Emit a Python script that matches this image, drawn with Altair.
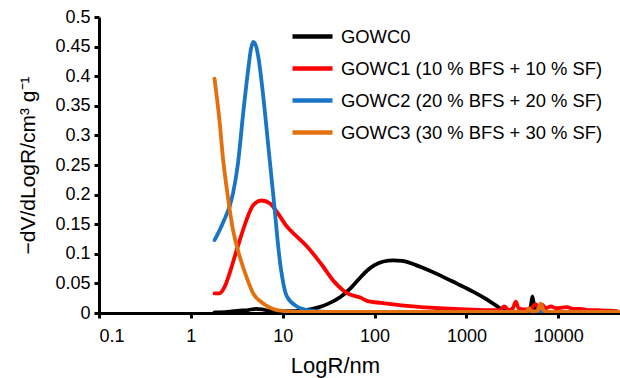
import altair as alt
import pandas as pd

series_names = [
    "GOWC0",
    "GOWC1 (10 % BFS + 10 % SF)",
    "GOWC2 (20 % BFS + 20 % SF)",
    "GOWC3 (30 % BFS + 30 % SF)",
]
series_colors = ["#000000", "#ff0000", "#1b75c5", "#e3700e"]

# GOWC0 (black)
r0 = [1.81, 2.5, 3.4, 4.2, 5.1, 6.0, 7.0, 9.0, 12, 16, 20, 25, 30.6, 42.5, 55, 70, 85, 100,
      125, 160, 200, 260, 340, 510, 780, 1180, 1700, 2180, 2400, 2700, 3500, 4500, 5000,
      5230, 5450, 5800, 7000, 9000, 12000, 20000, 30000, 47000]
v0 = [0.001, 0.002, 0.004, 0.005, 0.007, 0.006, 0.004, 0.003, 0.003, 0.004, 0.006, 0.010,
      0.015, 0.027, 0.042, 0.060, 0.073, 0.081, 0.087, 0.089, 0.088, 0.083, 0.076, 0.064,
      0.050, 0.036, 0.022, 0.011, 0.006, 0.003, 0.002, 0.002, 0.010, 0.028, 0.012, 0.003,
      0.002, 0.002, 0.002, 0.001, 0.001, 0.001]

# GOWC1 (red)
r1 = [1.81, 2.05, 2.33, 2.64, 3.0, 3.41, 4.03, 4.77, 5.9, 7.28, 8.62, 11.1, 14.3, 18.5,
      25.9, 36.3, 50.8, 70, 84.5, 118, 224, 513, 1660, 2300, 2580, 2900, 3200, 3450, 3700,
      4200, 5000, 5680, 6200, 6700, 7300, 8300, 9500, 11000, 12500, 14500, 17400, 21000,
      26500, 32000, 37000, 43500]
v1 = [0.033, 0.033, 0.044, 0.067, 0.095, 0.123, 0.157, 0.182, 0.190, 0.185, 0.171, 0.146,
      0.129, 0.112, 0.084, 0.053, 0.033, 0.026, 0.020, 0.017, 0.012, 0.008, 0.005, 0.005,
      0.011, 0.005, 0.008, 0.019, 0.008, 0.006, 0.007, 0.015, 0.008, 0.014, 0.008, 0.011,
      0.008, 0.009, 0.010, 0.007, 0.007, 0.005, 0.005, 0.004, 0.004, 0.003]

# GOWC2 (blue)
r2 = [1.81, 2.23, 2.88, 3.26, 3.71, 4.2, 4.5, 4.77, 5.1, 5.42, 6.15, 6.98, 7.93, 9.38,
      11.1, 14.3, 18.5, 30, 100, 1000, 5000, 47000]
v2 = [0.123, 0.152, 0.202, 0.253, 0.337, 0.410, 0.445, 0.458, 0.452, 0.433, 0.365, 0.281,
      0.196, 0.084, 0.028, 0.011, 0.005, 0.002, 0.002, 0.002, 0.002, 0.002]

# GOWC3 (orange)
r3 = [1.81, 2.05, 2.23, 2.53, 2.88, 3.41, 4.03, 4.77, 6.15, 8.62, 14.3, 30, 100,
      1000, 4500, 4800, 5100, 6000, 6450, 6900, 7500, 47000]
v3 = [0.396, 0.325, 0.264, 0.196, 0.140, 0.095, 0.061, 0.033, 0.016, 0.005, 0.002,
      0.002, 0.002, 0.002, 0.002, 0.008, 0.002, 0.004, 0.016, 0.005, 0.002, 0.002]

x_ticks = [0.1, 1, 10, 100, 1000, 10000]
y_ticks = [0, 0.05, 0.1, 0.15, 0.2, 0.25, 0.3, 0.35, 0.4, 0.45, 0.5]

rows = []
for name, rs, vs in zip(series_names, [r0, r1, r2, r3], [v0, v1, v2, v3]):
    for r, v in zip(rs, vs):
        rows.append({"R": r, "V": v, "series": name})
df = pd.DataFrame(rows)

FONT = "Liberation Sans"

chart = alt.Chart(df).mark_line(
    strokeWidth=3.8, interpolate="monotone", clip=True, strokeCap="round"
).encode(
    x=alt.X(
        "R:Q",
        scale=alt.Scale(type="log", domain=[0.1, 47000], nice=False),
        axis=alt.Axis(values=x_ticks, format="~g", title="LogR/nm",
                      labelPadding=9, titleX=236, titleY=59,
                      titleBaseline="alphabetic", titleFontSize=22),
    ),
    y=alt.Y(
        "V:Q",
        scale=alt.Scale(domain=[0, 0.5], nice=False),
        axis=alt.Axis(values=y_ticks, format=".2~f", title="−dV/dLogR/cm³ g⁻¹",
                      labelPadding=4, titlePadding=16),
    ),
    color=alt.Color(
        "series:N",
        scale=alt.Scale(domain=series_names, range=series_colors),
        legend=alt.Legend(
            title=None, orient="none", legendX=191, legendY=-3,
            symbolType="stroke", symbolSize=1600, symbolStrokeWidth=4.5,
            labelFontSize=18.4, labelFont=FONT, labelColor="black",
            labelOffset=6, rowPadding=-1.3, labelLimit=0,
        ),
    ),
).properties(
    width=521,
    height=296,
    padding={"left": 99, "top": 17, "right": 0, "bottom": 65},
    autosize="none",
).configure_view(stroke=None).configure_axis(
    grid=False,
    domainColor="black",
    domainWidth=3,
    tickColor="black",
    tickWidth=3,
    tickSize=5,
    labelFont=FONT,
    labelFontSize=18,
    labelColor="black",
    titleFont=FONT,
    titleFontSize=21,
    titleFontWeight="normal",
    titleColor="black",
)

chart.save("out.html", embed_options={"renderer": "svg", "actions": False})
